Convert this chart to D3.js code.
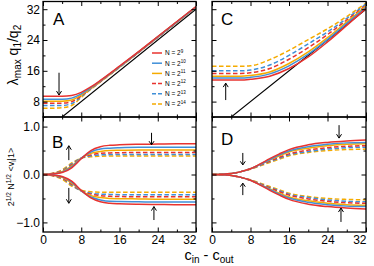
<!DOCTYPE html>
<html>
<head>
<meta charset="utf-8">
<script src="https://cdn.jsdelivr.net/npm/d3@7"></script>
<style>
  body { margin: 0; background: #fff; }
  svg { display: block; font-family: "Liberation Sans", Arial, sans-serif; }
</style>
</head>
<body>
<div id="chart"></div>
<script>
// data
const exps = [9, 10, 11, 12, 13, 14];
const colors = ['#e8332f', '#3f8fd8', '#f5ab00', '#e8332f', '#3f8fd8', '#f5ab00'];
const dashed = [false, false, false, true, true, true];

const xTopA = [0, 2, 4, 6, 8, 10, 12, 16, 20, 24, 28, 32];
const lamA = [
  [9.4, 9.4, 9.4, 9.6, 10.4, 11.8, 13.5, 17.2, 21.0, 24.9, 28.8, 32.7],
  [8.6, 8.6, 8.6, 8.9, 10.0, 11.6, 13.4, 17.1, 20.9, 24.8, 28.7, 32.6],
  [8.1, 8.1, 8.1, 8.4, 9.7, 11.5, 13.3, 17.0, 20.9, 24.8, 28.7, 32.6],
  [7.6, 7.6, 7.6, 8.0, 9.5, 11.4, 13.2, 17.0, 20.8, 24.7, 28.6, 32.5],
  [7.0, 7.0, 7.0, 7.5, 9.3, 11.3, 13.2, 16.9, 20.8, 24.7, 28.6, 32.5],
  [6.3, 6.3, 6.4, 7.0, 9.1, 11.2, 13.1, 16.9, 20.8, 24.7, 28.6, 32.5]
];

const xTopC = [0, 2, 4, 6, 8, 12, 16, 20, 24, 28, 32];
const lamC = [
  [13.6, 13.6, 13.6, 13.6, 13.8, 14.6, 16.6, 19.6, 23.5, 27.8, 32.2],
  [14.1, 14.1, 14.1, 14.1, 14.3, 15.2, 17.3, 20.3, 24.1, 28.3, 32.5],
  [14.6, 14.6, 14.6, 14.6, 14.8, 15.7, 17.9, 20.9, 24.6, 28.7, 32.8],
  [15.3, 15.3, 15.3, 15.3, 15.5, 16.6, 19.0, 22.0, 25.4, 29.2, 33.0],
  [16.0, 16.0, 16.0, 16.0, 16.2, 17.5, 20.0, 23.0, 26.1, 29.6, 33.3],
  [17.2, 17.2, 17.2, 17.2, 17.3, 18.9, 21.3, 24.1, 26.9, 30.1, 33.6]
];

const xBot = [0, 2, 4, 6, 8, 10, 12, 14, 16, 20, 24, 28, 32];
const vecBUp = [
  [0, 0.01, 0.04, 0.14, 0.33, 0.50, 0.58, 0.61, 0.62, 0.63, 0.635, 0.64, 0.64],
  [0, 0.01, 0.05, 0.16, 0.34, 0.47, 0.53, 0.55, 0.56, 0.57, 0.57, 0.57, 0.57],
  [0, 0.015, 0.06, 0.18, 0.34, 0.44, 0.48, 0.50, 0.505, 0.51, 0.51, 0.51, 0.51],
  [0, 0.02, 0.07, 0.20, 0.34, 0.41, 0.44, 0.45, 0.455, 0.46, 0.46, 0.46, 0.46],
  [0, 0.02, 0.08, 0.22, 0.34, 0.39, 0.41, 0.415, 0.42, 0.42, 0.42, 0.42, 0.42],
  [0, 0.025, 0.10, 0.24, 0.34, 0.37, 0.38, 0.385, 0.385, 0.385, 0.385, 0.385, 0.385]
];
const vecBDown = [
  [0, -0.01, -0.04, -0.14, -0.33, -0.49, -0.57, -0.60, -0.61, -0.62, -0.625, -0.63, -0.63],
  [0, -0.01, -0.05, -0.16, -0.34, -0.47, -0.53, -0.56, -0.565, -0.57, -0.575, -0.575, -0.575],
  [0, -0.015, -0.06, -0.18, -0.34, -0.44, -0.48, -0.50, -0.505, -0.51, -0.515, -0.515, -0.515],
  [0, -0.02, -0.07, -0.20, -0.34, -0.41, -0.44, -0.455, -0.46, -0.465, -0.465, -0.465, -0.465],
  [0, -0.02, -0.08, -0.22, -0.34, -0.39, -0.41, -0.415, -0.42, -0.42, -0.42, -0.42, -0.42],
  [0, -0.025, -0.10, -0.24, -0.33, -0.36, -0.37, -0.37, -0.37, -0.37, -0.37, -0.37, -0.37]
];
const vecDUp = [
  [0, 0.005, 0.02, 0.06, 0.12, 0.22, 0.33, 0.43, 0.52, 0.62, 0.67, 0.70, 0.72],
  [0, 0.005, 0.02, 0.06, 0.12, 0.21, 0.31, 0.41, 0.49, 0.58, 0.63, 0.66, 0.67],
  [0, 0.005, 0.02, 0.06, 0.12, 0.21, 0.30, 0.39, 0.47, 0.55, 0.60, 0.63, 0.64],
  [0, 0.005, 0.02, 0.06, 0.12, 0.20, 0.28, 0.36, 0.43, 0.51, 0.56, 0.59, 0.60],
  [0, 0.005, 0.02, 0.06, 0.12, 0.19, 0.27, 0.34, 0.41, 0.48, 0.53, 0.56, 0.57],
  [0, 0.005, 0.02, 0.06, 0.11, 0.18, 0.25, 0.32, 0.39, 0.46, 0.50, 0.52, 0.53]
];
const vecDDown = [
  [0, -0.005, -0.02, -0.06, -0.12, -0.22, -0.33, -0.43, -0.52, -0.62, -0.67, -0.70, -0.72],
  [0, -0.005, -0.02, -0.06, -0.12, -0.21, -0.31, -0.41, -0.49, -0.58, -0.63, -0.66, -0.67],
  [0, -0.005, -0.02, -0.06, -0.12, -0.21, -0.30, -0.39, -0.47, -0.55, -0.60, -0.63, -0.64],
  [0, -0.005, -0.02, -0.06, -0.12, -0.20, -0.28, -0.36, -0.43, -0.51, -0.56, -0.59, -0.60],
  [0, -0.005, -0.02, -0.06, -0.12, -0.19, -0.27, -0.34, -0.41, -0.48, -0.53, -0.56, -0.57],
  [0, -0.005, -0.02, -0.06, -0.11, -0.18, -0.25, -0.32, -0.39, -0.46, -0.50, -0.52, -0.53]
];

const xMajor = [0, 8, 16, 24, 32];
const xMinor = [4, 12, 20, 28];
const lamMajor = [8, 16, 24, 32];
const lamMinor = [4, 12, 20, 28];
const vecMajor = [-1.0, 0.0, 1.0];
const vecMinor = [-0.5, 0.5];

// arrows: [x, yFrom, yTo] in data units, head at yTo
const arrowsA = [[3.35, 15.5, 9.7]];
const arrowsC = [[2.85, 8.4, 12.8]];
const arrowsB = [[5.4, 0.30, 0.60], [5.4, -0.28, -0.60], [22.7, 0.87, 0.62], [23.2, -0.95, -0.67]];
const arrowsD = [[6.4, 0.45, 0.20], [6.4, -0.43, -0.18], [26.4, 1.03, 0.76], [26.8, -0.99, -0.70]];

const W = 374, H = 266;
const svg = d3.select('#chart').append('svg').attr('width', W).attr('height', H);

const leftX = [43, 196], rightX = [212, 366];
const topY = [117, 1.5], botY = [232, 117];

const xL = d3.scaleLinear().domain([0, 32]).range(leftX);
const xR = d3.scaleLinear().domain([0, 32]).range(rightX);
const yT = d3.scaleLinear().domain([4, 34]).range(topY);
const yB = d3.scaleLinear().domain([-1.2, 1.2]).range(botY);

const panels = [
  { id: 'A', x: xL, y: yT, yMaj: lamMajor, yMin: lamMinor, lab: true, xlab: false },
  { id: 'C', x: xR, y: yT, yMaj: lamMajor, yMin: lamMinor, lab: false, xlab: false },
  { id: 'B', x: xL, y: yB, yMaj: vecMajor, yMin: vecMinor, lab: true, xlab: true },
  { id: 'D', x: xR, y: yB, yMaj: vecMajor, yMin: vecMinor, lab: false, xlab: true }
];

function frameAxes(p) {
  const g = svg.append('g');
  const x0 = p.x.range()[0], x1 = p.x.range()[1];
  const y0 = p.y.range()[1], y1 = p.y.range()[0];
  const fmtY = p.id === 'A' || p.id === 'C' ? d3.format('d') : d3.format('.1f');

  const add = (axis, tx, ty) => {
    const a = g.append('g').attr('transform', `translate(${tx},${ty})`).call(axis);
    a.select('.domain').remove();
    a.selectAll('line').attr('stroke', '#000').attr('stroke-width', 1);
    a.selectAll('text').attr('font-size', 12).attr('fill', '#000')
      .attr('font-family', '"Liberation Sans", Arial, sans-serif');
    return a;
  };
  // left
  add(d3.axisLeft(p.y).tickValues(p.yMaj).tickSizeInner(-4.5).tickSizeOuter(0).tickPadding(3)
    .tickFormat(p.lab ? fmtY : ''), x0, 0);
  add(d3.axisLeft(p.y).tickValues(p.yMin).tickSizeInner(-2.5).tickSizeOuter(0).tickFormat(''), x0, 0);
  // right
  add(d3.axisRight(p.y).tickValues(p.yMaj).tickSizeInner(-4.5).tickSizeOuter(0).tickFormat(''), x1, 0);
  add(d3.axisRight(p.y).tickValues(p.yMin).tickSizeInner(-2.5).tickSizeOuter(0).tickFormat(''), x1, 0);
  // bottom
  const bx = add(d3.axisBottom(p.x).tickValues(xMajor).tickSizeInner(-4.5).tickSizeOuter(0).tickPadding(3)
    .tickFormat(p.xlab ? d3.format('d') : ''), 0, y1);
  // the last label sits left of its tick so it clears the next panel
  bx.selectAll('text').filter(d => d === 32).attr('text-anchor', 'end').attr('x', 0);
  add(d3.axisBottom(p.x).tickValues(xMinor).tickSizeInner(-2.5).tickSizeOuter(0).tickFormat(''), 0, y1);
  // top
  add(d3.axisTop(p.x).tickValues(xMajor).tickSizeInner(-4.5).tickSizeOuter(0).tickFormat(''), 0, y0);
  add(d3.axisTop(p.x).tickValues(xMinor).tickSizeInner(-2.5).tickSizeOuter(0).tickFormat(''), 0, y0);

  g.append('rect').attr('x', x0).attr('y', y0).attr('width', x1 - x0).attr('height', y1 - y0)
    .attr('fill', 'none').attr('stroke', '#000').attr('stroke-width', 1.3);
}

function clipFor(p) {
  const id = 'clip' + p.id;
  const x0 = p.x.range()[0], x1 = p.x.range()[1];
  const y0 = p.y.range()[1], y1 = p.y.range()[0];
  svg.append('clipPath').attr('id', id).append('rect')
    .attr('x', x0).attr('y', y0).attr('width', x1 - x0).attr('height', y1 - y0);
  return svg.append('g').attr('clip-path', `url(#${id})`);
}

function drawSeries(g, p, xs, sets) {
  const line = d3.line().x((d, i) => p.x(xs[i])).y(d => p.y(d)).curve(d3.curveMonotoneX);
  // draw in reverse order so N=2^9 ends on top
  d3.range(sets.length).reverse().forEach(k => {
    g.append('path').datum(sets[k]).attr('d', line)
      .attr('fill', 'none').attr('stroke', colors[k]).attr('stroke-width', 1.5)
      .attr('stroke-dasharray', dashed[k] ? '4.5,2.5' : null);
  });
}

function drawArrows(g, p, list) {
  list.forEach(a => {
    const x = p.x(a[0]), ya = p.y(a[1]), yb = p.y(a[2]);
    const dir = yb > ya ? 1 : -1;
    const h = Math.min(4, Math.abs(yb - ya) * 0.3);
    g.append('path')
      .attr('d', `M${x},${ya}L${x},${yb}M${x - 2.5},${yb - dir * h}L${x},${yb}L${x + 2.5},${yb - dir * h}`)
      .attr('fill', 'none').attr('stroke', '#000').attr('stroke-width', 1);
  });
}

// y = x reference line for the top panels
function diag(g, p) {
  g.append('path').datum([4, 32])
    .attr('d', d3.line().x(d => p.x(d)).y(d => p.y(d)))
    .attr('stroke', '#000').attr('stroke-width', 1.1).attr('fill', 'none');
}

const gA = clipFor(panels[0]);
diag(gA, panels[0]);
drawSeries(gA, panels[0], xTopA, lamA);
const gC = clipFor(panels[1]);
diag(gC, panels[1]);
drawSeries(gC, panels[1], xTopC, lamC);
const gB = clipFor(panels[2]);
drawSeries(gB, panels[2], xBot, vecBUp);
drawSeries(gB, panels[2], xBot, vecBDown);
const gD = clipFor(panels[3]);
drawSeries(gD, panels[3], xBot, vecDUp);
drawSeries(gD, panels[3], xBot, vecDDown);

panels.forEach(frameAxes);

drawArrows(svg, panels[0], arrowsA);
drawArrows(svg, panels[1], arrowsC);
drawArrows(svg, panels[2], arrowsB);
drawArrows(svg, panels[3], arrowsD);

// panel letters
const letterPos = { A: [53, 25], C: [221, 25], B: [52, 148], D: [221, 145] };
panels.forEach(p => {
  svg.append('text').attr('x', letterPos[p.id][0]).attr('y', letterPos[p.id][1])
    .attr('font-size', 17).text(p.id);
});

// legend in panel A
const leg = svg.append('g').attr('transform', 'translate(152,53)');
exps.forEach((e, i) => {
  const row = leg.append('g').attr('transform', `translate(0,${i * 10.2})`);
  row.append('line').attr('x1', 0).attr('x2', 10).attr('y1', 0).attr('y2', 0)
    .attr('stroke', colors[i]).attr('stroke-width', 1.5)
    .attr('stroke-dasharray', dashed[i] ? '4,2' : null);
  const t = row.append('text').attr('x', 13).attr('y', 2.3).attr('font-size', 6.5);
  t.append('tspan').text('N = 2');
  t.append('tspan').attr('dy', -2.5).attr('font-size', 4.5).text(e);
});

// y label top
const ylA = svg.append('text').attr('transform', 'translate(18,55) rotate(-90)')
  .attr('text-anchor', 'middle').attr('font-size', 14);
ylA.append('tspan').text('λ');
ylA.append('tspan').attr('font-size', 10).attr('dy', 3).text('max');
ylA.append('tspan').attr('dy', -3).text(' q');
ylA.append('tspan').attr('font-size', 10).attr('dy', 3).text('1');
ylA.append('tspan').attr('dy', -3).text('/q');
ylA.append('tspan').attr('font-size', 10).attr('dy', 3).text('2');

// y label bottom
const ylB = svg.append('text').attr('transform', 'translate(14,177) rotate(-90)')
  .attr('text-anchor', 'middle').attr('font-size', 9);
ylB.append('tspan').text('2');
ylB.append('tspan').attr('font-size', 6.5).attr('dy', -3).text('1/2');
ylB.append('tspan').attr('dy', 3).text(' N');
ylB.append('tspan').attr('font-size', 6.5).attr('dy', -3).text('1/2');
ylB.append('tspan').attr('dy', 3).text(' <v');
ylB.append('tspan').attr('font-size', 6.5).attr('dy', 2).text('i');
ylB.append('tspan').attr('dy', -2).text('|1>');

// x label
const xl = svg.append('text').attr('x', 209).attr('y', 259.5).attr('text-anchor', 'middle').attr('font-size', 14.5);
xl.append('tspan').text('c');
xl.append('tspan').attr('font-size', 10).attr('dy', 3.5).text('in');
xl.append('tspan').attr('dy', -3.5).text(' - c');
xl.append('tspan').attr('font-size', 10).attr('dy', 3.5).text('out');
</script>
</body>
</html>
